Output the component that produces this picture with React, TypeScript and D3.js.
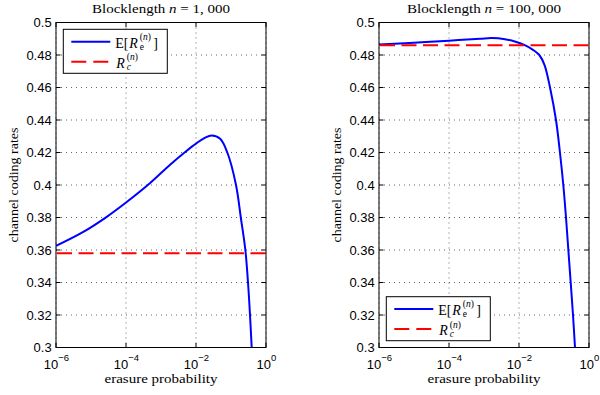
import React from 'react';
import * as d3 from 'd3';

// ---------- data ----------
const xTickExponents = [-6, -4, -2, 0];
const yTickValues = [0.3, 0.32, 0.34, 0.36, 0.38, 0.4, 0.42, 0.44, 0.46, 0.48, 0.5];
const yTickLabels = ['0.3', '0.32', '0.34', '0.36', '0.38', '0.4', '0.42', '0.44', '0.46', '0.48', '0.5'];

const panelBlocklengths = ['1, 000', '100, 000'];

// log10(erasure probability) and E[R_e^(n)] for n = 1,000
const leftLogP = [-6.0, -5.22, -4.55, -3.98, -3.31, -2.74, -2.3, -1.98, -1.75, -1.55, -1.31, -1.105, -0.857, -0.72, -0.59, -0.514, -0.457, -0.409];
const leftRate = [0.3625, 0.3711, 0.3804, 0.3895, 0.4012, 0.4125, 0.4205, 0.4258, 0.429, 0.4305, 0.4284, 0.42, 0.40, 0.38, 0.36, 0.34, 0.32, 0.30];

// log10(erasure probability) and E[R_e^(n)] for n = 100,000
const rightLogP = [-6.0, -5.0, -4.0, -3.11, -2.78, -2.4, -2.1, -1.85, -1.6, -1.42, -1.27, -1.114, -0.943, -0.83, -0.734, -0.657, -0.59, -0.523, -0.457, -0.40];
const rightRate = [0.4864, 0.4876, 0.4888, 0.49, 0.4904, 0.4897, 0.4882, 0.4862, 0.4832, 0.48, 0.4738, 0.46, 0.44, 0.42, 0.40, 0.38, 0.36, 0.34, 0.32, 0.30];

// R_c^(n) per panel
const capacityRates = [0.358, 0.486];

// ---------- layout ----------
const W = 600;
const H = 395;
const plotLeft = 56;
const plotRight = 266;
const plotTop = 22.5;
const plotBottom = 347.5;
const panelOffsets = [0, 323];
const titleWidths = [138, 154];
const legendPositions = [
  { x: 63.3, y: 29.3 },
  { x: 63.3, y: 296.7 },
];

const serif = 'Liberation Serif, serif';
const sans = 'Liberation Sans, sans-serif';

const BLUE = '#0000ff';
const RED = '#ff0000';

type PanelProps = {
  idx: number;
  logP: number[];
  rate: number[];
  rc: number;
  title: string;
};

function Legend({ x, y }: { x: number; y: number }) {
  const w = 104;
  const h = 44;
  const row1 = 12.4;
  const row2 = 32.4;
  const tx = 52;
  return (
    <g transform={`translate(${x},${y})`}>
      <rect x={0} y={0} width={w} height={h} fill="#fff" stroke="#000" strokeWidth={1} />
      <line x1={8} x2={47} y1={row1} y2={row1} stroke={BLUE} strokeWidth={2} />
      <line x1={8} x2={47} y1={row2} y2={row2} stroke={RED} strokeWidth={2} strokeDasharray="15,7" />
      <g fontFamily={serif} fill="#000">
        <text x={tx} y={row1 + 5.9} fontSize={14}>E[</text>
        <text x={tx + 14} y={row1 + 5.9} fontSize={14} fontStyle="italic">R</text>
        <text x={tx + 24.5} y={row1 - 1.8} fontSize={9.5}>(<tspan fontStyle="italic">n</tspan>)</text>
        <text x={tx + 24.5} y={row1 + 8.4} fontSize={9.5}>e</text>
        <text x={tx + 38} y={row1 + 5.9} fontSize={14}>]</text>
      </g>
      <g fontFamily={serif} fill="#000">
        <text x={tx + 1} y={row2 + 5.9} fontSize={14} fontStyle="italic">R</text>
        <text x={tx + 11.5} y={row2 - 1.3} fontSize={9.5}>(<tspan fontStyle="italic">n</tspan>)</text>
        <text x={tx + 11.5} y={row2 + 8.2} fontSize={9.5} fontStyle="italic">c</text>
      </g>
    </g>
  );
}

function Panel({ idx, logP, rate, rc, title }: PanelProps) {
  const x = d3.scaleLog().domain([1e-6, 1]).range([plotLeft, plotRight]);
  const y = d3.scaleLinear().domain([0.3, 0.5]).range([plotBottom, plotTop]);
  const pts: [number, number][] = logP.map((l, i) => [Math.pow(10, l), rate[i]]);
  const line = d3
    .line<[number, number]>()
    .x((d) => x(d[0]))
    .y((d) => y(d[1]))
    .curve(d3.curveCatmullRom.alpha(0.5));
  const clipId = `clip-${idx}`;
  const tickLen = 4.5;
  const cx = (plotLeft + plotRight) / 2;
  const cy = (plotTop + plotBottom) / 2;
  const leg = legendPositions[idx];
  return (
    <g transform={`translate(${panelOffsets[idx]},0)`}>
      <defs>
        <clipPath id={clipId}>
          <rect x={plotLeft} y={plotTop} width={plotRight - plotLeft} height={plotBottom - plotTop} />
        </clipPath>
      </defs>
      <rect x={plotLeft} y={plotTop} width={plotRight - plotLeft} height={plotBottom - plotTop} fill="#fff" />
      <g stroke="#000" strokeOpacity={0.6} strokeWidth={1} strokeDasharray="1,4">
        {xTickExponents.map((e) => (
          <line key={`gx${e}`} x1={x(Math.pow(10, e))} x2={x(Math.pow(10, e))} y1={plotTop} y2={plotBottom} />
        ))}
        {yTickValues.map((v) => (
          <line key={`gy${v}`} x1={plotLeft} x2={plotRight} y1={y(v)} y2={y(v)} />
        ))}
      </g>
      <g clipPath={`url(#${clipId})`}>
        <path d={line(pts) || ''} fill="none" stroke={BLUE} strokeWidth={2} />
        <line x1={plotLeft} x2={plotRight} y1={y(rc)} y2={y(rc)} stroke={RED} strokeWidth={2} strokeDasharray="15,6.5" strokeDashoffset={-1} />
      </g>
      <rect x={plotLeft} y={plotTop} width={plotRight - plotLeft} height={plotBottom - plotTop} fill="none" stroke="#000" strokeWidth={1} />
      <g stroke="#000" strokeWidth={1}>
        {xTickExponents.map((e) => {
          const px = x(Math.pow(10, e));
          return (
            <g key={`tx${e}`}>
              <line x1={px} x2={px} y1={plotBottom} y2={plotBottom - tickLen} />
              <line x1={px} x2={px} y1={plotTop} y2={plotTop + tickLen} />
            </g>
          );
        })}
        {yTickValues.map((v) => (
          <g key={`ty${v}`}>
            <line x1={plotLeft} x2={plotLeft + tickLen} y1={y(v)} y2={y(v)} />
            <line x1={plotRight} x2={plotRight - tickLen} y1={y(v)} y2={y(v)} />
          </g>
        ))}
      </g>
      <g fontFamily={sans} fill="#000">
        {yTickValues.map((v, i) => (
          <text key={`ly${v}`} x={plotLeft - 4.3} y={y(v) + 4.6} fontSize={13} textAnchor="end">
            {yTickLabels[i]}
          </text>
        ))}
        {xTickExponents.map((e) => (
          <text key={`lx${e}`} x={x(Math.pow(10, e)) + 0.5} y={368.5} fontSize={13} textAnchor="middle">
            10
            <tspan dy={-8} fontSize={9.5}>{e === 0 ? '0' : `\u2212${Math.abs(e)}`}</tspan>
          </text>
        ))}
      </g>
      <text
        x={cx}
        y={12.7}
        fontFamily={serif}
        fontSize={12.5}
        textAnchor="middle"
        fill="#000"
        textLength={titleWidths[idx]}
        lengthAdjust="spacingAndGlyphs"
      >
        Blocklength <tspan fontStyle="italic">n</tspan> = {title}
      </text>
      <text x={cx} y={382.5} fontFamily={serif} fontSize={12} textAnchor="middle" fill="#000" textLength={113} lengthAdjust="spacingAndGlyphs">
        erasure probability
      </text>
      <text
        transform={`translate(18.3,${cy}) rotate(-90)`}
        x={0}
        y={0}
        fontFamily={serif}
        fontSize={12.5}
        textAnchor="middle"
        fill="#000"
        textLength={115}
        lengthAdjust="spacingAndGlyphs"
      >
        channel coding rates
      </text>
      <Legend x={leg.x} y={leg.y} />
    </g>
  );
}

export default function App() {
  return (
    <svg
      width={W}
      height={H}
      viewBox={`0 0 ${W} ${H}`}
      style={{ position: 'absolute', left: 0, top: 0, display: 'block', background: '#fff' }}
    >
      <rect x={0} y={0} width={W} height={H} fill="#fff" />
      <Panel idx={0} logP={leftLogP} rate={leftRate} rc={capacityRates[0]} title={panelBlocklengths[0]} />
      <Panel idx={1} logP={rightLogP} rate={rightRate} rc={capacityRates[1]} title={panelBlocklengths[1]} />
    </svg>
  );
}
